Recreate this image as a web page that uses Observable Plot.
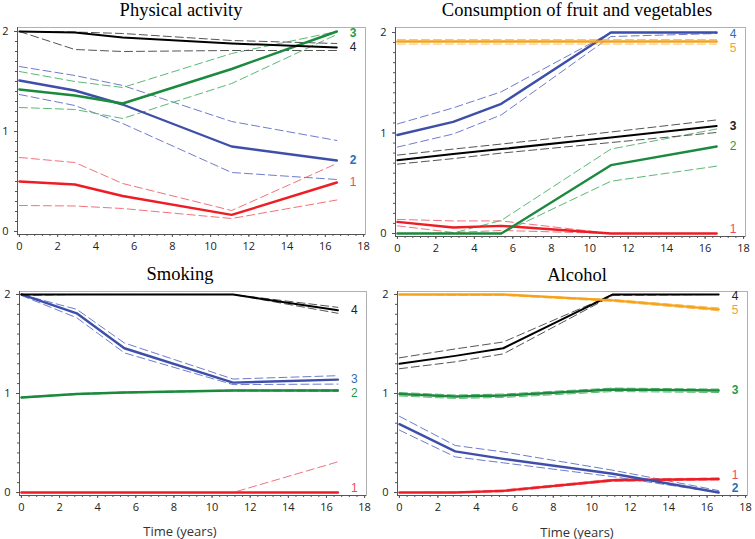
<!DOCTYPE html>
<html><head><meta charset="utf-8">
<script src="https://cdn.jsdelivr.net/npm/d3@7"></script>
<script src="https://cdn.jsdelivr.net/npm/@observablehq/plot@0.6"></script>
<style>
body{margin:0;background:#fff;}
#wrap{position:relative;width:755px;height:539px;overflow:hidden;font-family:"Open Sans",sans-serif;}
.title{position:absolute;font-family:"Liberation Serif","Times New Roman",serif;font-size:18.5px;color:#000;transform:translate(-50%,-50%);white-space:nowrap;line-height:1;}
.xlab{position:absolute;font-family:"Open Sans",sans-serif;font-size:13px;color:#333;transform:translate(-50%,-50%);white-space:nowrap;line-height:1;}
.panel{position:absolute;}
</style></head><body><div id="wrap"></div>
<script>
// ---------- shared ----------
const times = [0, 2.9, 5.4, 11.1, 16.6];
const xTicks = [0, 2, 4, 6, 8, 10, 12, 14, 16, 18];
const yTicks = [0, 1, 2];

// ---------- Physical activity ----------
const paGroups = ["1", "2", "3", "4"];
const paMid = [
  [0.50, 0.47, 0.355, 0.166, 0.49],
  [1.51, 1.41, 1.27, 0.85, 0.71],
  [1.42, 1.36, 1.28, 1.625, 2.0],
  [2.0, 1.99, 1.94, 1.88, 1.84]
];
const paLow = [
  [0.26, 0.255, 0.23, 0.13, 0.315],
  [1.37, 1.26, 1.08, 0.59, 0.52],
  [1.24, 1.22, 1.13, 1.48, 1.97],
  [2.0, 1.82, 1.80, 1.81, 1.81]
];
const paHigh = [
  [0.74, 0.69, 0.48, 0.21, 0.68],
  [1.65, 1.56, 1.46, 1.10, 0.91],
  [1.60, 1.50, 1.44, 1.78, 2.0],
  [2.0, 1.995, 1.98, 1.91, 1.88]
];

// ---------- Consumption of fruit and vegetables ----------
const fvGroups = ["1", "2", "3", "4", "5"];
const fvMid = [
  [0.115, 0.06, 0.076, 0.0, 0.0],
  [0.0, 0.0, 0.0, 0.68, 0.866],
  [0.73, 0.79, 0.84, 0.955, 1.07],
  [0.98, 1.11, 1.29, 2.0, 2.0],
  [1.91, 1.91, 1.91, 1.91, 1.91]
];
const fvLow = [
  [0.076, 0.01, 0.03, 0.0, 0.0],
  [0.0, 0.0, 0.0, 0.52, 0.67],
  [0.69, 0.745, 0.80, 0.905, 1.005],
  [0.86, 0.99, 1.18, 1.96, 1.99],
  [1.885, 1.885, 1.885, 1.885, 1.885]
];
const fvHigh = [
  [0.14, 0.125, 0.125, 0.0, 0.0],
  [0.0, 0.005, 0.13, 0.84, 1.04],
  [0.78, 0.84, 0.89, 1.01, 1.13],
  [1.09, 1.25, 1.41, 2.0, 2.0],
  [1.93, 1.93, 1.93, 1.93, 1.93]
];

// ---------- Smoking ----------
const smGroups = ["1", "2", "3", "4"];
const smMid = [
  [0.0, 0.0, 0.0, 0.0, 0.0],
  [0.96, 0.995, 1.01, 1.03, 1.03],
  [2.0, 1.81, 1.457, 1.11, 1.14],
  [2.0, 2.0, 2.0, 2.0, 1.84]
];
const smLow = [
  [0.0, 0.0, 0.0, 0.0, 0.0],
  [0.955, 0.99, 1.005, 1.025, 1.02],
  [1.99, 1.765, 1.41, 1.09, 1.095],
  [1.99, 2.0, 2.0, 2.0, 1.81]
];
const smHigh = [
  [0.0, 0.0, 0.0, 0.0, 0.31],
  [0.965, 1.0, 1.015, 1.035, 1.04],
  [2.0, 1.85, 1.51, 1.146, 1.18],
  [2.0, 2.0, 2.0, 2.0, 1.87]
];

// ---------- Alcohol ----------
const alGroups = ["1", "2", "3", "4", "5"];
const alMid = [
  [0.0, 0.0, 0.017, 0.124, 0.137],
  [0.69, 0.415, 0.34, 0.19, 0.0],
  [0.995, 0.97, 0.98, 1.04, 1.03],
  [1.30, 1.38, 1.457, 2.0, 2.0],
  [2.0, 2.0, 2.0, 1.94, 1.85]
];
const alLow = [
  [0.0, 0.0, 0.007, 0.114, 0.127],
  [0.63, 0.36, 0.30, 0.16, 0.0],
  [0.975, 0.95, 0.96, 1.02, 1.01],
  [1.25, 1.32, 1.40, 1.99, 2.0],
  [2.0, 1.99, 1.99, 1.93, 1.835]
];
const alHigh = [
  [0.0, 0.005, 0.027, 0.134, 0.147],
  [0.77, 0.475, 0.41, 0.225, 0.02],
  [1.01, 0.985, 0.995, 1.055, 1.045],
  [1.36, 1.45, 1.52, 2.0, 2.0],
  [2.0, 2.0, 2.0, 1.95, 1.865]
];

// ---------- styles ----------
const hue = {
  red:    {line: "#ee1c25", dash: "#f3727a", label: "#f04b5c", w: 2.4},
  blue:   {line: "#3d4fa8", dash: "#6f7ccc", label: "#2d6db8", w: 2.4},
  green:  {line: "#1b8a3e", dash: "#5cb874", label: "#1e9b4b", w: 2.4},
  black:  {line: "#000000", dash: "#555555", label: "#222222", w: 2},
  orange: {line: "#f7a21b", dash: "#f9c060", label: "#f5a02e", w: 2.4}
};

const panels = [
  {title: "Physical activity", groups: paGroups, mid: paMid, low: paLow, high: paHigh,
   hues: ["red", "blue", "green", "black"], bold: ["2", "3"],
   left: 0, top: 0, width: 375, height: 260, mL: 17, mR: 10, mT: 27, mB: 26,
   yDom: [-0.03, 2.04], titleX: 181, titleY: 10, xlab: false},
  {title: "Consumption of fruit and vegetables", groups: fvGroups, mid: fvMid, low: fvLow, high: fvHigh,
   hues: ["red", "green", "black", "blue", "orange"], bold: ["3"],
   left: 375, top: 0, width: 380, height: 260, mL: 20, mR: 10, mT: 27, mB: 24,
   yDom: [-0.03, 2.05], titleX: 577, titleY: 10, xlab: false},
  {title: "Smoking", groups: smGroups, mid: smMid, low: smLow, high: smHigh,
   hues: ["red", "green", "blue", "black"], bold: [],
   left: 0, top: 260, width: 375, height: 279, mL: 19, mR: 9, mT: 31, mB: 44,
   yDom: [-0.03, 2.03], titleX: 180, titleY: 274, xlab: true, xlabX: 180, xlabY: 531},
  {title: "Alcohol", groups: alGroups, mid: alMid, low: alLow, high: alHigh,
   hues: ["red", "blue", "green", "black", "orange"], bold: ["2", "3"],
   left: 375, top: 260, width: 380, height: 279, mL: 22, mR: 8, mT: 31, mB: 44,
   yDom: [-0.03, 2.03], titleX: 577, titleY: 275, xlab: true, xlabX: 577, xlabY: 532}
];

function labelPositions(groups, mid) {
  const gap = 0.14;
  const items = groups.map((g, i) => ({g, i, y: mid[i][mid[i].length - 1]}));
  items.sort((a, b) => b.y - a.y);
  items[0].y = Math.min(1.98, items[0].y);
  for (let k = 1; k < items.length; k++) items[k].y = Math.min(items[k].y, items[k - 1].y - gap);
  const n = items.length;
  items[n - 1].y = Math.max(0.04, items[n - 1].y);
  for (let k = n - 2; k >= 0; k--) items[k].y = Math.max(items[k].y, items[k + 1].y + gap);
  return items;
}

const wrap = document.getElementById("wrap");
const xDom = [-0.1, 18.1];

for (const p of panels) {
  const rows = p.groups.flatMap((g, i) => times.map((t, j) => ({
    g, t, mid: p.mid[i][j], lo: p.low[i][j], hi: p.high[i][j]
  })));
  const color = {};
  p.groups.forEach((g, i) => color[g] = hue[p.hues[i]]);
  const labels = labelPositions(p.groups, p.mid).map(d => ({...d, t: times[times.length - 1]}));

  const marks = [
    Plot.frame({stroke: "#b0b0b0", strokeWidth: 1}),
    Plot.ruleX([xDom[0]], {stroke: "#555", strokeWidth: 1}),
    Plot.ruleY([p.yDom[0]], {stroke: "#555", strokeWidth: 1}),
    Plot.axisX(d3.range(0, 18.01, 0.4), {tickSize: 2, tickFormat: () => "", label: null, stroke: "#555"}),
    Plot.axisX(xTicks, {tickSize: 3, tickPadding: 5, tickFormat: "d", label: null, stroke: "#555", fill: "#222"}),
    Plot.axisY(d3.range(0, 2.001, 0.1), {tickSize: 2, tickFormat: () => "", label: null, stroke: "#555"}),
    Plot.axisY(yTicks, {tickSize: 3, tickPadding: 6, tickFormat: "d", label: null, stroke: "#555", fill: "#222"})
  ];
  for (const g of p.groups) {
    const data = rows.filter(d => d.g === g);
    const c = color[g];
    marks.push(Plot.line(data, {x: "t", y: "lo", stroke: c.dash, strokeWidth: 1, strokeDasharray: "8,4"}));
    marks.push(Plot.line(data, {x: "t", y: "hi", stroke: c.dash, strokeWidth: 1, strokeDasharray: "8,4"}));
  }
  for (const g of p.groups) {
    const data = rows.filter(d => d.g === g);
    marks.push(Plot.line(data, {x: "t", y: "mid", stroke: color[g].line, strokeWidth: color[g].w}));
  }
  marks.push(Plot.text(labels.filter(d => !p.bold.includes(d.g)), {
    x: "t", y: "y", text: "g", fill: d => color[d.g].label, dx: 13, textAnchor: "start",
    fontSize: 12, fontFamily: "'Liberation Sans', Arial, sans-serif"
  }));
  marks.push(Plot.text(labels.filter(d => p.bold.includes(d.g)), {
    x: "t", y: "y", text: "g", fill: d => color[d.g].label, dx: 13, textAnchor: "start",
    fontSize: 12, fontWeight: "bold", fontFamily: "'Liberation Sans', Arial, sans-serif"
  }));

  const chart = Plot.plot({
    width: p.width, height: p.height,
    marginLeft: p.mL, marginRight: p.mR, marginTop: p.mT, marginBottom: p.mB,
    x: {domain: xDom},
    y: {domain: p.yDom},
    style: {fontFamily: "'Open Sans', sans-serif", fontSize: "11px", background: "transparent", overflow: "visible"},
    marks
  });
  chart.classList.add("panel");
  chart.style.left = p.left + "px";
  chart.style.top = p.top + "px";
  wrap.appendChild(chart);

  const t = document.createElement("div");
  t.className = "title";
  t.textContent = p.title;
  t.style.left = p.titleX + "px";
  t.style.top = p.titleY + "px";
  wrap.appendChild(t);

  if (p.xlab) {
    const xl = document.createElement("div");
    xl.className = "xlab";
    xl.textContent = "Time (years)";
    xl.style.left = p.xlabX + "px";
    xl.style.top = p.xlabY + "px";
    wrap.appendChild(xl);
  }
}
</script></body></html>
